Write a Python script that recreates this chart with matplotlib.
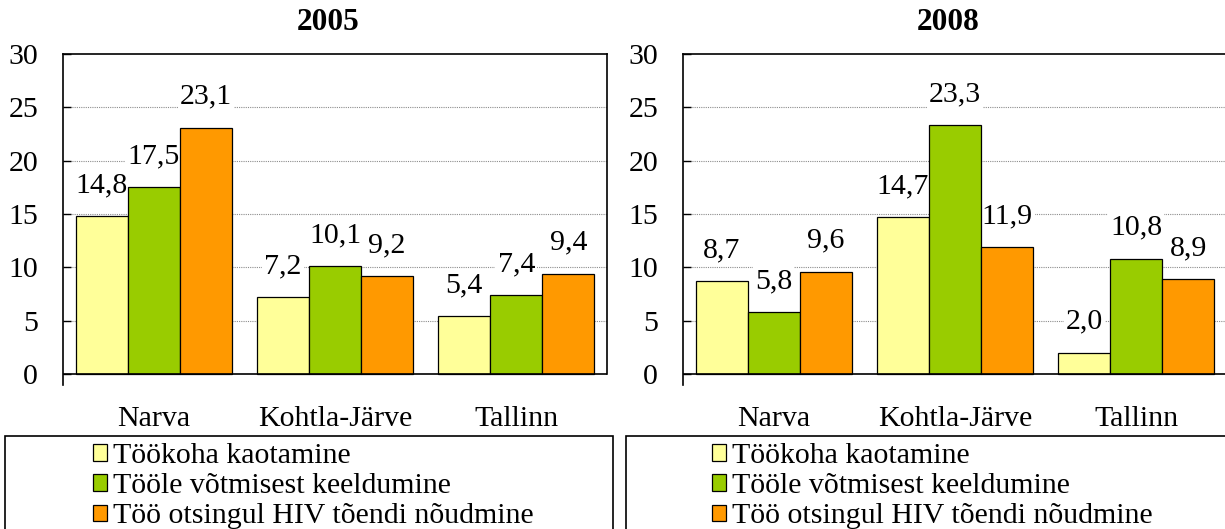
import numpy as np
import matplotlib
matplotlib.use("Agg")
import matplotlib.pyplot as plt
from matplotlib.patches import Patch, Rectangle

plt.rcParams['font.family'] = ['Liberation Serif', 'DejaVu Serif']

cities = ["Narva", "Kohtla-Järve", "Tallinn"]
series_names = ["Töökoha kaotamine", "Tööle võtmisest keeldumine",
                "Töö otsingul HIV tõendi nõudmine"]
colors = ["#FFFF99", "#99CC00", "#FF9900"]

years = ["2005", "2008"]
# order: Töökoha kaotamine, Tööle võtmisest keeldumine, HIV tõend
values_2005 = [[14.8, 7.2, 5.4],
               [17.5, 10.1, 7.4],
               [23.1, 9.2, 9.4]]
values_2008 = [[8.7, 14.7, 2.0],
               [5.8, 23.3, 10.8],
               [9.6, 11.9, 8.9]]
yticks = [0, 5, 10, 15, 20, 25, 30]

W, H = 1225, 529
fig = plt.figure(figsize=(W / 100, H / 100), dpi=100)

FS = 21.5
bar_w = 0.287
x = np.arange(len(cities))

panels = [(63, values_2005, years[0], 328), (683, values_2008, years[1], 948)]
legend_boxes = [(5, 613), (626, 1240)]
legend_x = [93, 712]

for i, (left_px, vals, year, title_x) in enumerate(panels):
    ax = fig.add_axes([left_px / W, 1 - 385 / H, 544 / W, (385 - 54) / H])
    for j, (name, col, v) in enumerate(zip(series_names, colors, vals)):
        bars = ax.bar(x + (j - 1) * bar_w, v, bar_w, color=col,
                      edgecolor="black", linewidth=0.9, zorder=3)
        for b, val in zip(bars, v):
            # labels sit under the bars so their white boxes never cover a bar
            ax.annotate(f"{val:.1f}".replace(".", ","),
                        (b.get_x() + b.get_width() / 2, val),
                        xytext=(0, 24), textcoords="offset pixels",
                        ha="center", va="baseline", fontsize=FS, zorder=2,
                        bbox=dict(facecolor="white", edgecolor="none", pad=1.5))
    ax.set_xlim(-0.5, 2.5)
    ax.set_ylim(-1.03, 30)
    ax.set_yticks(yticks)
    ax.set_xticks(x)
    ax.set_xticklabels(cities)
    ax.tick_params(axis="x", length=0, labelsize=FS, pad=15)
    ax.tick_params(axis="y", direction="in", length=5.8, width=1,
                   labelsize=FS, pad=18)
    for yt in yticks[1:-1]:
        ax.axhline(yt, color="#8c8c8c", lw=0.8, ls=(0, (1, 1)), zorder=1)
    ax.axhline(0, color="black", lw=1.2, zorder=4)
    ax.spines["bottom"].set_visible(False)
    ax.spines["right"].set_bounds(0, 30)
    for s in ["left", "top", "right"]:
        ax.spines[s].set_linewidth(1.2)
    fig.text(title_x / W, 1 - 22 / H, year, fontsize=22.5, fontweight="bold",
             ha="center", va="center")

    bx0, bx1 = legend_boxes[i]
    fig.add_artist(Rectangle((bx0 / W, -0.05), (bx1 - bx0) / W, 0.05 + (529 - 436) / H,
                             transform=fig.transFigure, fill=False,
                             edgecolor="black", linewidth=1.2))
    handles = [Patch(facecolor=c, edgecolor="black", linewidth=0.9) for c in colors]
    fig.legend(handles, series_names, loc="upper left",
               bbox_to_anchor=(legend_x[i] / W, 1 - 443 / H),
               frameon=False, fontsize=FS, borderpad=0, borderaxespad=0,
               handlelength=0.47, handleheight=0.47, handletextpad=0.2,
               labelspacing=0.14)

fig.savefig("out.png", dpi=100)
